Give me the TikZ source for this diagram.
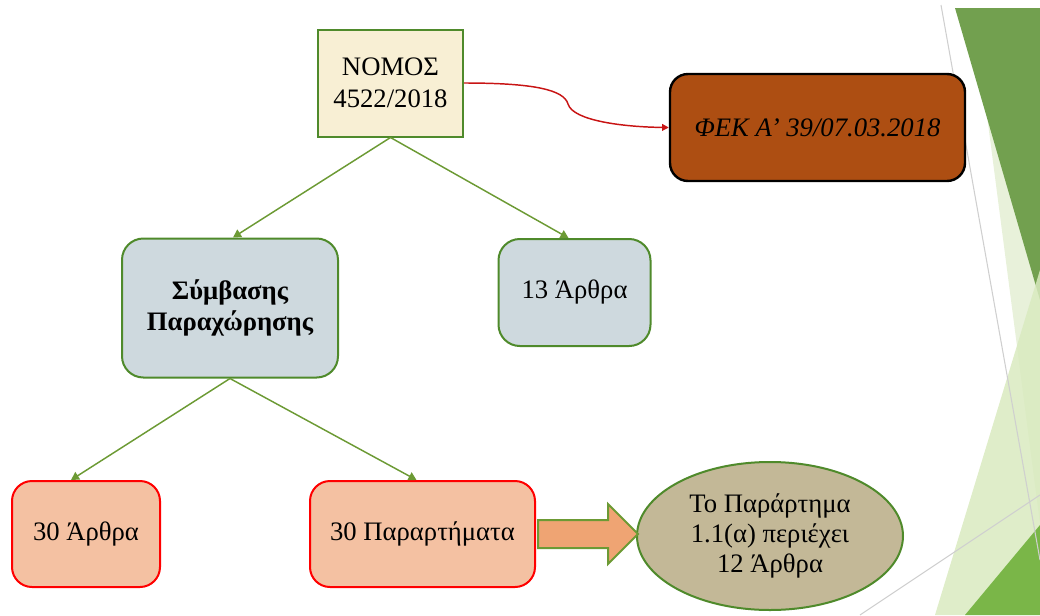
\documentclass[tikz,border=0pt]{standalone}
\usepackage{fontspec}
\setmainfont{Liberation Serif}
\usetikzlibrary{arrows.meta,shapes.geometric,calc}
\definecolor{cream}{HTML}{F8EFD4}
\definecolor{dkgreen}{HTML}{4F8A2B}
\definecolor{argreen}{HTML}{6C9A34}
\definecolor{fekbrown}{HTML}{AD4E12}
\definecolor{greyblue}{HTML}{CED9DE}
\definecolor{peach}{HTML}{F4C1A2}
\definecolor{orangearrow}{HTML}{EFA473}
\definecolor{khaki}{HTML}{C3B897}
\definecolor{decodark}{HTML}{72A04F}
\definecolor{decosliver}{HTML}{E8F1DA}
\definecolor{decolight}{HTML}{D9EABF}
\definecolor{decobright}{HTML}{7AB648}
\definecolor{decoline}{HTML}{CFCFCF}
\definecolor{curvered}{HTML}{C81414}
\tikzset{
  txt/.style={font=\fontsize{20}{24}\selectfont, align=center, text=black, inner sep=0pt},
  lawbox/.style={txt, draw=dkgreen, line width=1.5pt, fill=cream},
  fekbox/.style={txt, draw=black, line width=1.8pt, fill=fekbrown, rounded corners=13.5pt, font=\fontsize{20}{24}\selectfont\itshape},
  bluebox/.style={txt, draw=dkgreen, line width=1.5pt, fill=greyblue, rounded corners=16pt},
  peachbox/.style={txt, draw=red, line width=1.5pt, fill=peach, rounded corners=15pt},
  ellnode/.style={txt, ellipse, draw=dkgreen, line width=1.5pt, fill=khaki, font=\fontsize{20}{22.5}\selectfont},
  treearrow/.style={draw=argreen, line width=1.1pt, -{Triangle[length=6pt,width=6.5pt]}},
  redcurve/.style={draw=curvered, line width=1.1pt, -{Triangle[length=5pt,width=5pt]}},
  blockarrow/.style={draw=argreen, line width=1.5pt, fill=orangearrow, line join=miter},
  decoline/.style={draw=decoline, line width=0.8pt}
}
\begin{document}
\begin{tikzpicture}[x=0.75pt,y=-0.75pt]
\useasboundingbox (0,0) rectangle (1040,615);
% background decoration
\fill[decosliver] (973,8) -- (1040,8) -- (1040,523) -- cycle;
\fill[decodark] (955,8) -- (1040,8) -- (1040,300) -- cycle;
\fill[decolight, opacity=0.85] (1040,270) -- (935,615) -- (1040,615) -- cycle;
\fill[decobright] (1040,525) -- (965,615) -- (1040,615) -- cycle;
\draw[decoline] (941,5) -- (1040,560);
\draw[decoline] (860,615) -- (1040,495);

% nodes
\node[lawbox, minimum width=108.75pt, minimum height=80.25pt] (nomos) at (390.5,83) {ΝΟΜΟΣ\\4522/2018};
\node[fekbox, minimum width=221.25pt, minimum height=80.25pt] (fek) at (817.5,127.5) {ΦΕΚ Α’ 39/07.03.2018};
\node[bluebox, minimum width=162pt, minimum height=104.25pt, font=\fontsize{20}{23.25}\selectfont\bfseries] (sym) at (230,308) {Σύμβασης\\Παραχώρησης};
\node[bluebox, minimum width=114pt, minimum height=80.25pt] (art13) at (574.5,292.5) {13 Άρθρα};
\node[peachbox, minimum width=111pt, minimum height=79.5pt] (art30) at (86,534) {30 Άρθρα};
\node[peachbox, minimum width=168.75pt, minimum height=79.5pt] (par30) at (422.5,534) {30 Παραρτήματα};
\node[ellnode, minimum width=199.5pt, minimum height=111pt] (ell) at (770,536) {Το Παράρτημα\\1.1(α) περιέχει\\12 Άρθρα};

% connectors
\draw[treearrow] (nomos.south) -- ($(sym.north)+(3,0)$);
\draw[treearrow] (nomos.south) -- ($(art13.north)+(-6,0)$);
\draw[treearrow] (sym.south) -- ($(art30.north)+(-15,0)$);
\draw[treearrow] (sym.south) -- ($(par30.north)+(-6,0)$);
\coordinate (kink) at (568,104);
\draw[redcurve] (nomos.east) .. controls (535,83) and (564,90) .. (kink) .. controls (573,121) and (625,127) .. (fek.west);
\coordinate (bastart) at ($(par30.east)+(2,0)$);
\draw[blockarrow] (bastart) ++(0,-14) -- ++(70,0) -- ++(0,-16) -- ++(30,30) -- ++(-30,30) -- ++(0,-16) -- ++(-70,0) -- cycle;
\end{tikzpicture}
\end{document}
